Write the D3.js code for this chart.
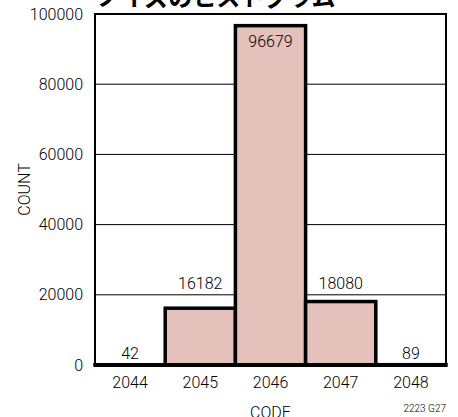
<!DOCTYPE html>
<html>
<head>
<meta charset="utf-8">
<script src="https://cdn.jsdelivr.net/npm/d3@7"></script>
<style>
  html, body { margin: 0; padding: 0; background: #fff; }
  svg { display: block; }
  text { font-family: Roboto, "Liberation Sans", sans-serif; font-weight: 300; fill: #000; }
</style>
</head>
<body>
<svg id="chart" width="458" height="417"></svg>
<script>
// Histogram of output codes
const codes = ["2044", "2045", "2046", "2047", "2048"];
const counts = [42, 16182, 96679, 18080, 89];
const yTicks = [0, 20000, 40000, 60000, 80000, 100000];
const title = "ノイズのヒストグラム";
const xTitle = "CODE";
const yTitle = "COUNT";
const figId = "2223 G27";

const svg = d3.select("#chart");
const margin = { left: 95, right: 12, top: 14, bottom: 52 };
const W = 458, H = 417;
const plotL = margin.left, plotR = W - margin.right;
const plotT = margin.top, plotB = H - margin.bottom;

const x = d3.scaleBand().domain(codes).range([plotL, plotR]).padding(0);
const y = d3.scaleLinear().domain([0, 100000]).range([plotB, plotT]);

// Horizontal grid lines
svg.append("g")
  .selectAll("line")
  .data(yTicks.filter(t => t > 0 && t < 100000))
  .join("line")
  .attr("x1", plotL).attr("x2", plotR)
  .attr("y1", d => y(d)).attr("y2", d => y(d))
  .attr("stroke", "#000").attr("stroke-width", 1);

// Bars
const data = codes.map((c, i) => ({ code: c, count: counts[i] }));
svg.append("g")
  .selectAll("rect")
  .data(data)
  .join("rect")
  .attr("x", d => x(d.code))
  .attr("width", x.bandwidth())
  .attr("y", d => y(d.count))
  .attr("height", d => y(0) - y(d.count))
  .attr("fill", "#e4c1ba")
  .attr("stroke", "#000")
  .attr("stroke-width", 3.5);

// Plot frame
svg.append("rect")
  .attr("x", plotL).attr("y", plotT)
  .attr("width", plotR - plotL).attr("height", plotB - plotT)
  .attr("fill", "none").attr("stroke", "#000").attr("stroke-width", 2);

// Heavy baseline
svg.append("line")
  .attr("x1", plotL - 1).attr("x2", plotR + 1)
  .attr("y1", y(0)).attr("y2", y(0))
  .attr("stroke", "#000").attr("stroke-width", 4);

// Value labels: tallest bar labelled inside, others just above the nearest grid line
const maxCount = d3.max(counts);
svg.append("g")
  .selectAll("text")
  .data(data)
  .join("text")
  .attr("x", d => x(d.code) + x.bandwidth() / 2)
  .attr("y", d => d.count === maxCount
    ? y(d.count) + 21
    : y(Math.round(d.count / 20000) * 20000) - 6)
  .attr("text-anchor", "middle")
  .attr("font-size", 16)
  .text(d => d.count);

// Y axis
const yAxis = svg.append("g")
  .attr("transform", `translate(${plotL},0)`)
  .call(d3.axisLeft(y).tickValues(yTicks).tickSize(0).tickPadding(12).tickFormat(d3.format("d")));
yAxis.select(".domain").remove();
yAxis.selectAll("text").attr("font-size", 16).attr("font-family", null).attr("fill", null);

// X axis
const xAxis = svg.append("g")
  .attr("transform", `translate(0,${plotB})`)
  .call(d3.axisBottom(x).tickSize(0).tickPadding(12));
xAxis.select(".domain").remove();
xAxis.selectAll("text").attr("font-size", 16).attr("font-family", null).attr("fill", null);

// Axis titles
svg.append("text")
  .attr("x", (plotL + plotR) / 2).attr("y", 418)
  .attr("text-anchor", "middle").attr("font-size", 16)
  .text(xTitle);
svg.append("text")
  .attr("transform", `translate(30,${(plotT + plotB) / 2}) rotate(-90)`)
  .attr("text-anchor", "middle").attr("font-size", 16)
  .text(yTitle);

// Chart title
svg.append("text")
  .attr("x", 97).attr("y", 6)
  .attr("font-size", 24)
  .style("font-family", "'Noto Sans CJK JP', sans-serif")
  .style("font-weight", "bold")
  .text(title);

// Figure id
svg.append("text")
  .attr("x", plotR).attr("y", 412)
  .attr("text-anchor", "end").attr("font-size", 10)
  .text(figId);
</script>
</body>
</html>
